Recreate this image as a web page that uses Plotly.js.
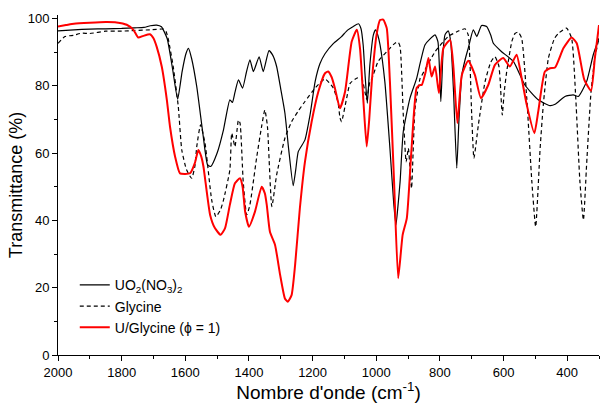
<!DOCTYPE html>
<html>
<head>
<meta charset="utf-8">
<script src="https://cdn.plot.ly/plotly-3.0.1.min.js"></script>
<style>html,body{margin:0;padding:0;background:#fff;}#chart{width:600px;height:403px;}</style>
</head>
<body>
<div id="chart"></div>
<script>
// UO2(NO3)2
const uoWn = [2000,1950,1900,1850,1800,1760,1730,1710,1690,1675,1657,1640,1624,1610,1598,1590,1580,1564,1545,1530,1520,1500,1480,1460,1452,1444,1433,1420,1408,1397,1386,1368,1355,1337,1325,1313,1300,1287,1275,1261,1253,1245,1224,1208,1192,1177,1161,1135,1110,1090,1072,1056,1048,1041,1035,1028,1020,1009,1002,995,988,973,957,945,938,932,925,915,894,873,862,847,830,815,806,797,790,784,774,766,757,747,740,731,720,711,695,684,669,653,640,632,606,569,533,491,454,438,407,381,365,339,318,300];
const uoT = [96.3,96.6,96.8,96.9,97.0,97.2,97.3,97.8,98.0,97.5,94,85,76,84.2,89.5,91.1,88,79.7,66,56.5,56,60,66.9,75.8,75,78,81.7,79.3,84,87.7,84.2,88.6,84.2,90.4,89,85.7,79,71.9,61,50.3,55,60.4,63.9,71.3,81.2,86.5,89.5,92.5,94.5,96.5,97.6,98.4,97,92,83,74.8,86.2,95.1,96.6,95,92.1,81.2,61.4,45,38.6,44,51.5,66.4,76.3,82.2,86.7,92.1,94,95.1,93,75.3,90,95.1,96.3,93.1,78,55.5,70,83.2,88,91.1,96.6,94.6,97.9,97.6,95,92.6,90.1,87.2,80.2,75.8,74.1,74.5,76.8,77.3,76.8,81.2,89.2,94.1];

// Glycine
const glyWn = [2000,1978,1950,1926,1900,1850,1800,1760,1711,1669,1660,1653,1638,1622,1611,1596,1580,1570,1564,1552,1538,1517,1504,1490,1480,1460,1454,1444,1433,1428,1418,1407,1397,1376,1360,1350,1342,1328,1313,1287,1266,1245,1224,1190,1161,1135,1120,1114,1109,1093,1082,1060,1046,1030,1020,1014,994,967,940,931,925,915,906,899,894,889,878,862,857,815,774,740,721,711,700,693,679,658,640,627,615,611,604,598,590,574,564,554,543,527,511,499,485,475,459,440,427,402,386,373,360,349,339,325,313,300];
const glyT = [92.6,94.6,95.0,95.6,95.5,96.2,96.2,96.4,96.6,96.8,96,93.6,85.7,73.8,60.9,55,52.5,56,61.9,68.4,62.9,46,41.1,43,46,55,65.9,61.9,69.8,68.9,51.5,41.6,44.6,58.5,68,72.8,68,44.1,53.5,64.4,69.3,72.5,75.3,79.5,82,79.3,75,70.5,69.3,76.3,80.7,82.3,82.2,76,81.2,82,87.2,90.1,92.7,92.9,91.6,71.3,57.4,61.4,55.5,49.5,73.3,82.2,83,90.1,94.6,96.3,96.9,95.1,71.3,58.5,68.4,81.2,87,88.6,86,82.2,71.3,78,84.2,93.1,95.5,95.9,94.1,76.3,51.5,38.1,61.4,74.3,88.2,94,95.6,97.1,94.1,76.3,51.5,40.1,56.5,78.2,88.2,94.2];

// U/Glycine (phi = 1)
const ugWn = [2000,1975,1950,1900,1850,1816,1784,1763,1748,1732,1711,1700,1690,1674,1658,1648,1632,1617,1600,1585,1570,1559,1550,1543,1522,1507,1489,1475,1460,1444,1428,1420,1412,1400,1381,1360,1350,1344,1334,1318,1302,1287,1278,1266,1255,1240,1224,1203,1182,1161,1151,1140,1130,1114,1098,1077,1061,1051,1040,1030,1022,1014,999,988,978,967,957,944,931,917,904,889,873,862,857,845,836,826,815,803,789,768,758,745,731,711,690,671,648,627,601,580,559,543,527,503,491,470,454,438,412,386,370,346,325,313,300];
const ugT = [97.6,98.0,98.4,98.7,98.9,98.8,98.1,96.6,94.3,94.8,95.3,94.1,91.6,85.7,75.8,67.8,58.9,54,53.8,54,57,60.9,59,56,41.6,37.7,35.7,37.7,44.6,51,52.5,50,42.6,38.1,42.6,50,48,44.6,36.6,32.7,23.8,16.8,15.8,17.8,26.7,43.6,57.4,69.3,78.2,83.7,84.2,82.5,79.3,73.3,78.2,93.1,96.6,91.1,75,61.9,70,81.2,95.1,99.5,99.6,97.1,81.2,51.5,22.8,35.7,40.6,61.4,79.3,80.2,80.2,84,88.2,82.7,85.7,77.8,91.1,93.6,86.2,68.9,83.2,87.4,83.2,76.3,80.2,86.2,88.2,85.7,89.2,82.2,74.3,65.9,72.3,84.2,85.2,85.4,91.1,94.3,92.6,81.7,78.5,88.2,98];

const xTicks = [2000,1800,1600,1400,1200,1000,800,600,400];
const yTicks = [0,20,40,60,80,100];

const FONT = 'Liberation Sans, Arial, sans-serif';

const traces = [
  {x: uoWn, y: uoT, name: 'UO<sub>2</sub>(NO<sub>3</sub>)<sub>2</sub>', mode: 'lines',
   line: {color: '#000000', width: 1.2, shape: 'spline', smoothing: 0.5}},
  {x: glyWn, y: glyT, name: 'Glycine', mode: 'lines',
   line: {color: '#000000', width: 1.2, dash: '4px,3px', shape: 'spline', smoothing: 0.5}},
  {x: ugWn, y: ugT, name: 'U/Glycine (\u03d5 = 1)', mode: 'lines',
   line: {color: '#ff0000', width: 2, shape: 'spline', smoothing: 0.5}}
];

const layout = {
  width: 600, height: 403,
  margin: {l: 58, r: 1, t: 15, b: 48},
  paper_bgcolor: '#ffffff', plot_bgcolor: '#ffffff',
  font: {family: FONT, size: 13, color: '#000000'},
  showlegend: true,
  legend: {x: 0.031, y: 0.252, xanchor: 'left', yanchor: 'top',
           bgcolor: 'rgba(0,0,0,0)', font: {family: FONT, size: 14, color: '#000'},
           tracegroupgap: 0},
  xaxis: {
    range: [2000, 300], tickvals: xTicks, ticktext: xTicks.map(String),
    showgrid: false, zeroline: false, showline: true, linecolor: '#000', linewidth: 1,
    ticks: 'outside', ticklen: 5, tickcolor: '#000',
    minor: {ticks: 'outside', ticklen: 3, dtick: 100, tick0: 0, tickcolor: '#000', showgrid: false},
    tickfont: {family: FONT, size: 13, color: '#000'},
    title: {text: "Nombre d'onde (cm<sup>-1</sup>)", font: {family: FONT, size: 19, color: '#000'}, standoff: 0}
  },
  yaxis: {
    range: [0, 101], tickvals: yTicks, ticktext: yTicks.map(String),
    showgrid: false, zeroline: false, showline: true, linecolor: '#000', linewidth: 1,
    ticks: 'outside', ticklen: 5, tickcolor: '#000',
    minor: {ticks: 'outside', ticklen: 3, dtick: 10, tick0: 0, tickcolor: '#000', showgrid: false},
    tickfont: {family: FONT, size: 13, color: '#000'},
    title: {text: 'Transmittance (%)', font: {family: FONT, size: 18, color: '#000'}, standoff: 0}
  },
  xaxis2: {
    overlaying: 'x', side: 'top', anchor: 'y', range: [2000, 300], tickvals: xTicks,
    showticklabels: false, showgrid: false, zeroline: false, showline: true, linecolor: '#000', linewidth: 1,
    ticks: 'inside', ticklen: 4, tickcolor: '#000',
    minor: {ticks: 'inside', ticklen: 2, dtick: 100, tick0: 0, tickcolor: '#000', showgrid: false}
  },
  yaxis2: {
    overlaying: 'y', side: 'right', anchor: 'x', range: [0, 101], tickvals: yTicks,
    showticklabels: false, showgrid: false, zeroline: false, showline: true, linecolor: '#000', linewidth: 1,
    ticks: 'inside', ticklen: 4, tickcolor: '#000',
    minor: {ticks: 'inside', ticklen: 2, dtick: 10, tick0: 0, tickcolor: '#000', showgrid: false}
  }
};

Plotly.newPlot('chart', traces, layout, {staticPlot: true, displayModeBar: false});
</script>
</body>
</html>
